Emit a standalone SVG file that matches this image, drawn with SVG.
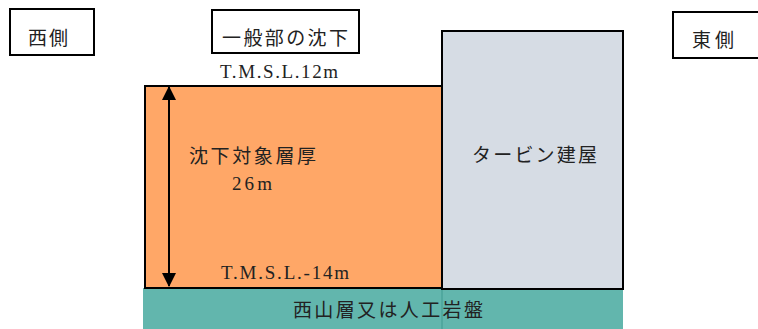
<svg xmlns="http://www.w3.org/2000/svg" width="758" height="329" viewBox="0 0 758 329">
<style>
.box{fill:#fff;stroke:#000;stroke-width:2}
.t{font-family:"Noto Sans CJK JP","Liberation Serif",sans-serif;font-size:19px;fill:#222}
.l{font-family:"Liberation Serif",serif;font-size:19px;fill:#222}
</style>
<defs>
<marker id="ah" viewBox="0 0 14 14" refX="13" refY="7" markerWidth="14" markerHeight="14" markerUnits="userSpaceOnUse" orient="auto-start-reverse">
<path d="M0,0 L14,7 L0,14 Z" fill="#000"/>
</marker>
</defs>
<rect width="758" height="329" fill="#fff"/>
<g id="ground">
<rect x="143" y="288" width="480" height="41" fill="#62B6AD"/>
<line x1="442" y1="288" x2="442" y2="329" stroke="#3f9a90" stroke-width="1"/>
<text class="t" x="293" y="317" textLength="190">西山層又は人工岩盤</text>
</g>
<g id="layer">
<rect x="145" y="86" width="297" height="202" fill="#FFA767" stroke="#000" stroke-width="2"/>
<text class="t" x="189" y="163" textLength="127">沈下対象層厚</text>
<text class="l" x="232" y="190" textLength="40">26m</text>
<text class="l" x="221" y="279" textLength="128">T.M.S.L.-14m</text>
</g>
<g id="turbine">
<rect x="442" y="31" width="181" height="258" fill="#D6DCE4" stroke="#000" stroke-width="2"/>
<text class="t" x="472" y="162" textLength="125">タービン建屋</text>
</g>
<g id="west">
<rect class="box" x="10" y="9" width="84" height="46"/>
<text class="t" x="28" y="45" textLength="40">西側</text>
</g>
<g id="general">
<rect class="box" x="212" y="10" width="147" height="43"/>
<text class="t" x="222" y="45" textLength="126">一般部の沈下</text>
</g>
<g id="east">
<rect class="box" x="673" y="12" width="90" height="46"/>
<text class="t" x="692" y="47" textLength="42">東側</text>
</g>
<text id="top-level" class="l" x="220" y="78" textLength="118">T.M.S.L.12m</text>
<g id="connectors">
<line x1="169" y1="87" x2="169" y2="286" stroke="#000" stroke-width="2" marker-start="url(#ah)" marker-end="url(#ah)"/>
</g>
</svg>
